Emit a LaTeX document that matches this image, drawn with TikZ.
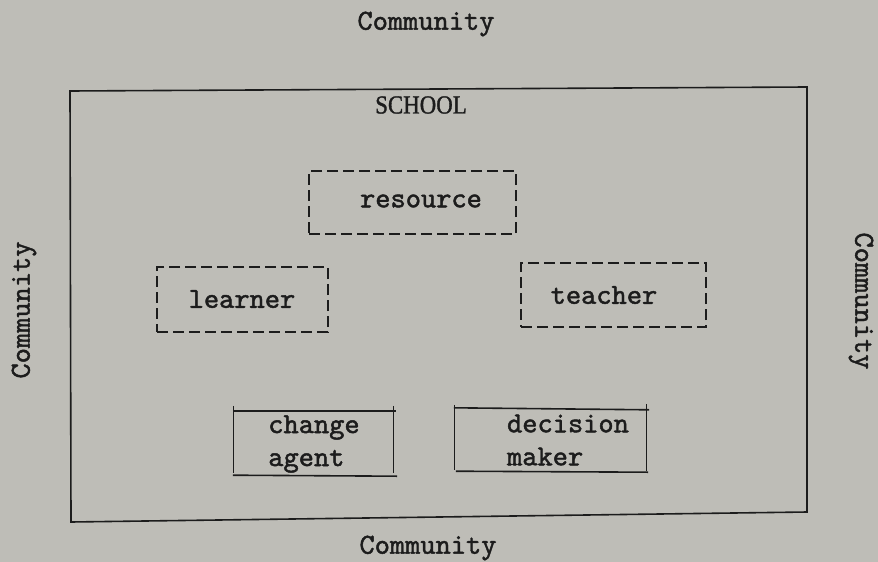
\documentclass[tikz,border=0pt]{standalone}
\usepackage{fontspec}
\newfontfamily\tw{lmmono10-regular}[Extension=.otf, FakeBold=1.6]
\newfontfamily\caps{Liberation Serif}[FakeBold=1.2, FakeStretch=0.88]
\definecolor{paper}{RGB}{190,189,183}
\definecolor{ink}{RGB}{28,28,28}
\begin{document}
\begin{tikzpicture}[x=1pt,y=-1pt,
  every node/.style={text=ink, font=\tw\fontsize{29}{33}\selectfont},
  role/.style={draw=ink, line width=2.4pt, dash pattern=on 11pt off 5pt, minimum width=#1, inner sep=0pt},
  label/.style={inner sep=0pt, anchor=center},
  side/.style={inner sep=0pt},
  wall/.style={draw=ink, line width=1.6pt, line cap=round}]
  % sheet
  \useasboundingbox (0,0) rectangle (878,562);
  \fill[paper] (0,0) rectangle (878,562);

  % school boundary
  \coordinate (tl) at (70,91);
  \coordinate (tr) at (807,87);
  \coordinate (br) at (807,512);
  \coordinate (bl) at (71,522);
  \draw[wall] (tl) -- (tr) -- (br) -- (bl) -- cycle;
  \node[label, font=\caps\fontsize{26}{30}\selectfont] (school) at (421,105) {SCHOOL};

  % community on all four sides
  \node[side] (ctop) at (426,24) {Community};
  \node[side] (cbot) at (428,548) {Community};
  \node[side, rotate=90] (cleft) at (24,310) {Community};
  \node[side, rotate=-90] (cright) at (861,301) {Community};

  % dashed roles
  \node[role=207pt, minimum height=63pt] (resbox) at (412.5,202.5) {};
  \node[label] (res) at (421,201) {resource};
  \node[role=171pt, minimum height=65pt] (learnbox) at (242.5,299.5) {};
  \node[label] (learn) at (242,299) {learner};
  \node[role=185pt, minimum height=64pt] (teachbox) at (613.5,295) {};
  \node[label] (teach) at (604,295) {teacher};

  % solid roles
  \node[minimum width=159pt, minimum height=65pt, inner sep=0pt] (cabox) at (313.5,443.5) {};
  \node[label, align=left] (ca) at (314,444) {change\\agent};
  \node[minimum width=191pt, minimum height=63pt, inner sep=0pt] (dmbox) at (550.5,440.5) {};
  \node[label, align=left] (dm) at (568,440) {decision\\maker};

  \draw[wall, line cap=butt] ([xshift=-1pt]cabox.north west) -- ([xshift=3pt]cabox.north east);
  \draw[wall, line cap=butt] ([xshift=-1pt,yshift=1pt]cabox.south west) -- ([xshift=4pt]cabox.south east);
  \draw[wall, line cap=butt, line width=1.2pt] ([yshift=5pt]cabox.north west) -- ([yshift=3pt]cabox.south west);
  \draw[wall, line cap=butt, line width=1.2pt] ([yshift=5pt]cabox.north east) -- ([yshift=3pt]cabox.south east);

  \draw[wall, line cap=butt] ([xshift=-1pt,yshift=1pt]dmbox.north west) -- ([xshift=3pt,yshift=-1pt]dmbox.north east);
  \draw[wall, line cap=butt] ([xshift=1pt,yshift=1pt]dmbox.south west) -- ([xshift=2pt]dmbox.south east);
  \draw[wall, line cap=butt, line width=1.2pt] ([yshift=4pt]dmbox.north west) -- ([yshift=2pt]dmbox.south west);
  \draw[wall, line cap=butt, line width=1.2pt] ([yshift=5pt]dmbox.north east) -- ([yshift=1pt]dmbox.south east);
\end{tikzpicture}
\end{document}
